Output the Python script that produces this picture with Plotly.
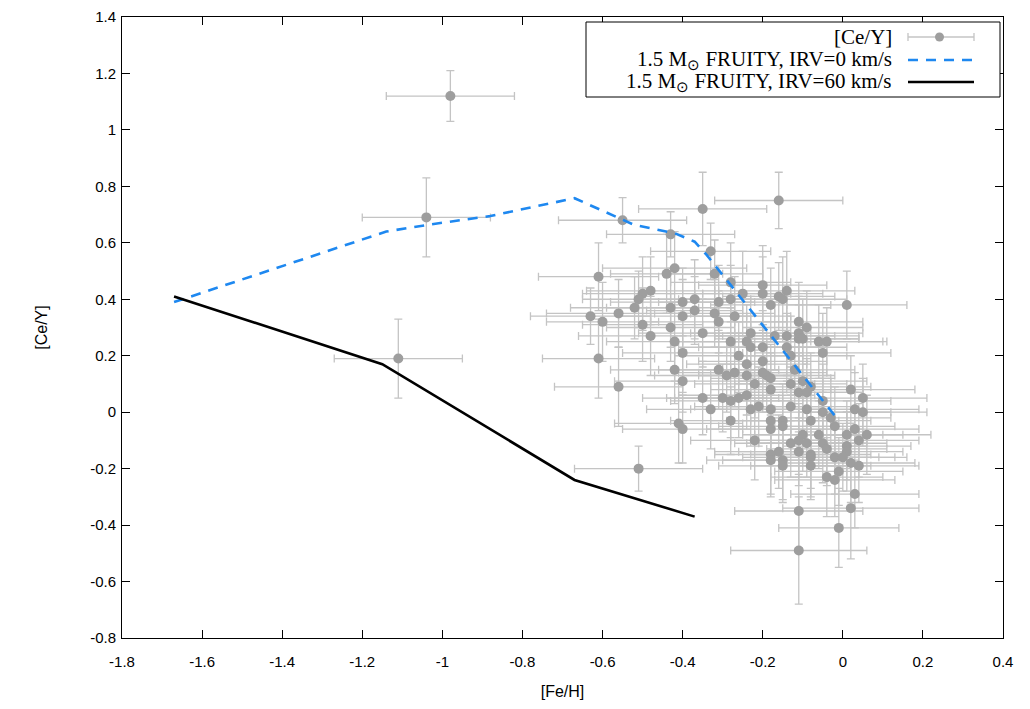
import plotly.graph_objects as go

# Observed stars
fe_h = [-0.98, -1.04, -1.11, -0.51,
        -0.55, -0.43, -0.35, -0.33, -0.61, -0.44, -0.42, -0.32, -0.28, -0.48,
        -0.50, -0.51, -0.52, -0.25, -0.40, -0.37, -0.31, -0.28, -0.43, -0.37,
        -0.63, -0.60, -0.56, -0.40, -0.32, -0.27, -0.31, -0.50, -0.43, -0.48,
        -0.35, -0.23, -0.42, -0.28, -0.24, -0.23, -0.40, -0.26, -0.61, -0.24,
        -0.42, -0.31, -0.29, -0.27, -0.24, -0.40, -0.56, -0.22, -0.16, -0.20,
        -0.20, -0.14, -0.16, -0.15, -0.18, 0.01, -0.11, -0.09, -0.17, -0.14,
        -0.11, -0.11, -0.10, -0.06, -0.04, -0.05, -0.20, -0.14, -0.13, -0.20,
        -0.12, -0.20, -0.19, -0.18, -0.10, -0.13, -0.08, 0.02, -0.35, -0.33,
        -0.30, -0.28, -0.26, -0.24, -0.23, -0.21, -0.28, -0.41, -0.40,
        0.05, -0.18, -0.11, -0.09, -0.05,
        -0.18, -0.13, -0.09, -0.05, -0.03, 0.03, 0.05, -0.18, -0.15, -0.15,
        -0.08, -0.18, -0.02, 0.03, 0.01, 0.06, 0.04,
        -0.06, -0.10, -0.22, -0.13, -0.11, -0.09, -0.05, -0.04, 0.01, 0.01,
        -0.16, -0.11, -0.18, -0.18, -0.08, -0.08, -0.02, 0.00, -0.15, -0.15,
        -0.08, 0.02, 0.04, -0.01, -0.04, -0.02, 0.03, -0.11, 0.02, -0.01, -0.11]

ce_y = [1.12, 0.69, 0.19, -0.20,
        0.68, 0.63, 0.72, 0.57, 0.48, 0.49, 0.51, 0.49, 0.46, 0.43,
        0.42, 0.40, 0.37, 0.42, 0.39, 0.40, 0.39, 0.40, 0.37, 0.36,
        0.34, 0.32, 0.35, 0.34, 0.35, 0.34, 0.32, 0.31, 0.30, 0.27,
        0.28, 0.28, 0.25, 0.25, 0.25, 0.23, 0.21, 0.20, 0.19, 0.17,
        0.15, 0.15, 0.13, 0.14, 0.13, 0.11, 0.09, 0.10, 0.75, 0.45,
        0.42, 0.43, 0.41, 0.40, 0.38, 0.38, 0.32, 0.30, 0.27, 0.27,
        0.28, 0.26, 0.26, 0.25, 0.25, 0.21, 0.23, 0.23, 0.20, 0.18,
        0.15, 0.14, 0.13, 0.12, 0.11, 0.10, 0.09, 0.08, 0.05, 0.01,
        0.05, 0.04, 0.05, 0.06, 0.01, 0.02, -0.03, -0.04, -0.06,
        0.05, 0.08, 0.07, 0.07, 0.04,
        0.01, 0.02, 0.01, 0.00, -0.02, 0.01, 0.00, -0.03, -0.03, -0.05,
        -0.03, -0.06, -0.05, -0.06, -0.08, -0.08, -0.10,
        -0.08, -0.08, -0.10, -0.11, -0.10, -0.11, -0.11, -0.13, -0.12, -0.14,
        -0.14, -0.14, -0.15, -0.17, -0.15, -0.16, -0.16, -0.16, -0.17, -0.19,
        -0.19, -0.18, -0.19, -0.21, -0.23, -0.24, -0.29, -0.35, -0.34, -0.41, -0.49]

fe_h_err = [0.16, 0.16, 0.16, 0.16,
            0.16, 0.16, 0.16, 0.15, 0.15, 0.14, 0.18, 0.12, 0.15, 0.16,
            0.15, 0.14, 0.16, 0.12, 0.18, 0.14, 0.15, 0.13, 0.16, 0.12,
            0.15, 0.14, 0.18, 0.16, 0.15, 0.14, 0.17, 0.15, 0.16, 0.18,
            0.16, 0.15, 0.17, 0.14, 0.16, 0.18, 0.15, 0.16, 0.14, 0.15,
            0.16, 0.15, 0.18, 0.14, 0.16, 0.17, 0.16, 0.15, 0.16, 0.16,
            0.15, 0.17, 0.14, 0.16, 0.15, 0.15, 0.16, 0.14, 0.15, 0.18,
            0.16, 0.15, 0.14, 0.16, 0.15, 0.17, 0.16, 0.15, 0.14, 0.16,
            0.15, 0.16, 0.17, 0.15, 0.16, 0.14, 0.15, 0.16, 0.15, 0.16,
            0.14, 0.15, 0.16, 0.17, 0.15, 0.16, 0.15, 0.16, 0.15,
            0.16, 0.15, 0.16, 0.14, 0.17,
            0.15, 0.16, 0.14, 0.17, 0.15, 0.16, 0.16, 0.15, 0.14, 0.16,
            0.15, 0.16, 0.15, 0.16, 0.14, 0.16, 0.15,
            0.16, 0.15, 0.16, 0.14, 0.17, 0.15, 0.16, 0.15, 0.16, 0.14,
            0.16, 0.15, 0.14, 0.16, 0.15, 0.17, 0.15, 0.16, 0.15, 0.16,
            0.15, 0.16, 0.15, 0.16, 0.14, 0.15, 0.16, 0.16, 0.17, 0.15, 0.17]

ce_y_err = [0.09, 0.14, 0.14, 0.08,
            0.08, 0.08, 0.13, 0.10, 0.12, 0.14, 0.13, 0.12, 0.14, 0.12,
            0.13, 0.10, 0.11, 0.15, 0.12, 0.14, 0.13, 0.12, 0.14, 0.12,
            0.10, 0.14, 0.12, 0.13, 0.12, 0.14, 0.11, 0.13, 0.12, 0.14,
            0.12, 0.13, 0.14, 0.12, 0.13, 0.11, 0.14, 0.12, 0.14, 0.13,
            0.12, 0.14, 0.13, 0.12, 0.14, 0.11, 0.14, 0.12, 0.10, 0.14,
            0.13, 0.14, 0.12, 0.15, 0.13, 0.12, 0.14, 0.13, 0.12, 0.14,
            0.13, 0.12, 0.14, 0.13, 0.12, 0.14, 0.13, 0.12, 0.14, 0.13,
            0.12, 0.14, 0.13, 0.12, 0.14, 0.13, 0.12, 0.12, 0.13, 0.14,
            0.12, 0.13, 0.14, 0.12, 0.13, 0.14, 0.12, 0.14, 0.12,
            0.12, 0.13, 0.14, 0.12, 0.13,
            0.12, 0.14, 0.13, 0.12, 0.14, 0.13, 0.12, 0.14, 0.13, 0.12,
            0.13, 0.12, 0.14, 0.13, 0.12, 0.14, 0.13,
            0.12, 0.13, 0.14, 0.12, 0.13, 0.12, 0.14, 0.13, 0.12, 0.14,
            0.13, 0.12, 0.14, 0.13, 0.12, 0.14, 0.13, 0.12, 0.14, 0.13,
            0.12, 0.14, 0.13, 0.12, 0.14, 0.13, 0.12, 0.13, 0.18, 0.14, 0.19]

# FRUITY models, 1.5 Msun
irv0_fe = [-1.67, -1.14, -1.03, -0.88, -0.67, -0.52, -0.42, -0.37, -0.34, -0.01]
irv0_ce = [0.39, 0.64, 0.665, 0.695, 0.758, 0.663, 0.634, 0.604, 0.557, -0.03]
irv60_fe = [-1.67, -1.15, -0.67, -0.37]
irv60_ce = [0.41, 0.17, -0.24, -0.37]

x_ticks = [-1.8, -1.6, -1.4, -1.2, -1.0, -0.8, -0.6, -0.4, -0.2, 0.0, 0.2, 0.4]
x_ticktext = ["-1.8", "-1.6", "-1.4", "-1.2", "-1", "-0.8", "-0.6", "-0.4", "-0.2", "0", "0.2", "0.4"]
y_ticks = [-0.8, -0.6, -0.4, -0.2, 0.0, 0.2, 0.4, 0.6, 0.8, 1.0, 1.2, 1.4]
y_ticktext = ["-0.8", "-0.6", "-0.4", "-0.2", "0", "0.2", "0.4", "0.6", "0.8", "1", "1.2", "1.4"]

legend_labels = ["[Ce/Y]",
                 "1.5 M<sub>\u2299</sub> FRUITY, IRV=0 km/s",
                 "1.5 M<sub>\u2299</sub> FRUITY, IRV=60 km/s"]

GRAY_ERR = "#c4c4c4"
GRAY_PT = "#9e9e9e"
BLUE = "#1e88f0"

fig = go.Figure()
fig.add_trace(go.Scatter(
    x=fe_h, y=ce_y, mode="markers",
    marker=dict(color=GRAY_PT, size=10, line=dict(width=0)),
    error_x=dict(type="data", array=fe_h_err, color=GRAY_ERR, thickness=1.3, width=4),
    error_y=dict(type="data", array=ce_y_err, color=GRAY_ERR, thickness=1.3, width=4),
    showlegend=False))
fig.add_trace(go.Scatter(
    x=irv0_fe, y=irv0_ce, mode="lines",
    line=dict(color=BLUE, width=2.6, dash="10px,8px"), showlegend=False))
fig.add_trace(go.Scatter(
    x=irv60_fe, y=irv60_ce, mode="lines",
    line=dict(color="black", width=2.6), showlegend=False))

# manual legend (gnuplot style: text right-aligned, sample on the right)
# helper: convert reference page pixels to paper fractions of the plot area
W, H = 881.0, 621.0
def px(x):
    return (x - 122) / W
def py(y):
    return (638 - y) / H

shapes = [dict(type="rect", xref="paper", yref="paper",
               x0=px(586), x1=px(1000), y0=py(97), y1=py(22),
               line=dict(color="black", width=1), fillcolor="white", layer="above")]
rows_y = [37, 60, 82]
sx0, sx1 = px(908), px(974)
shapes.append(dict(type="line", xref="paper", yref="paper", x0=sx0, x1=sx1,
                   y0=py(rows_y[0]), y1=py(rows_y[0]), line=dict(color=GRAY_ERR, width=1.3), layer="above"))
for xx in (908, 974):
    shapes.append(dict(type="line", xref="paper", yref="paper", x0=px(xx), x1=px(xx),
                       y0=py(rows_y[0] - 4), y1=py(rows_y[0] + 4), line=dict(color=GRAY_ERR, width=1.3), layer="above"))
shapes.append(dict(type="circle", xref="paper", yref="paper", x0=px(935), x1=px(944),
                   y0=py(rows_y[0] + 4.5), y1=py(rows_y[0] - 4.5),
                   fillcolor=GRAY_PT, line=dict(width=0), layer="above"))
shapes.append(dict(type="line", xref="paper", yref="paper", x0=sx0, x1=sx1,
                   y0=py(rows_y[1]), y1=py(rows_y[1]), line=dict(color=BLUE, width=2.6, dash="10px,8px"), layer="above"))
shapes.append(dict(type="line", xref="paper", yref="paper", x0=sx0, x1=sx1,
                   y0=py(rows_y[2]), y1=py(rows_y[2]), line=dict(color="black", width=2.6), layer="above"))

annotations = []
for lab, ry in zip(legend_labels, rows_y):
    annotations.append(dict(xref="paper", yref="paper", x=px(894), y=py(ry),
                            text=lab, showarrow=False, xanchor="right", yanchor="middle",
                            font=dict(family="Liberation Serif", size=21, color="black")))

axis_common = dict(showgrid=False, zeroline=False, showline=True, mirror="allticks",
                   linecolor="black", linewidth=1, ticks="inside", ticklen=8,
                   tickcolor="black", tickwidth=1, automargin=False,
                   tickfont=dict(family="Liberation Sans", size=15, color="black"))

fig.update_layout(
    width=1030, height=709,
    margin=dict(l=114, r=35, t=9, b=79),
    paper_bgcolor="white", plot_bgcolor="white",
    shapes=shapes, annotations=annotations,
    xaxis=dict(range=[-1.8, 0.4], tickvals=x_ticks, ticktext=x_ticktext, ticklabelstandoff=10,
               title=dict(text="[Fe/H]", font=dict(family="Liberation Sans", size=16, color="black"), standoff=16),
               **axis_common),
    yaxis=dict(range=[-0.8, 1.4], tickvals=y_ticks, ticktext=y_ticktext, ticklabelstandoff=2,
               title=dict(text="[Ce/Y]", font=dict(family="Liberation Sans", size=16, color="black"), standoff=38),
               **axis_common),
)

fig.write_html("out.html")
